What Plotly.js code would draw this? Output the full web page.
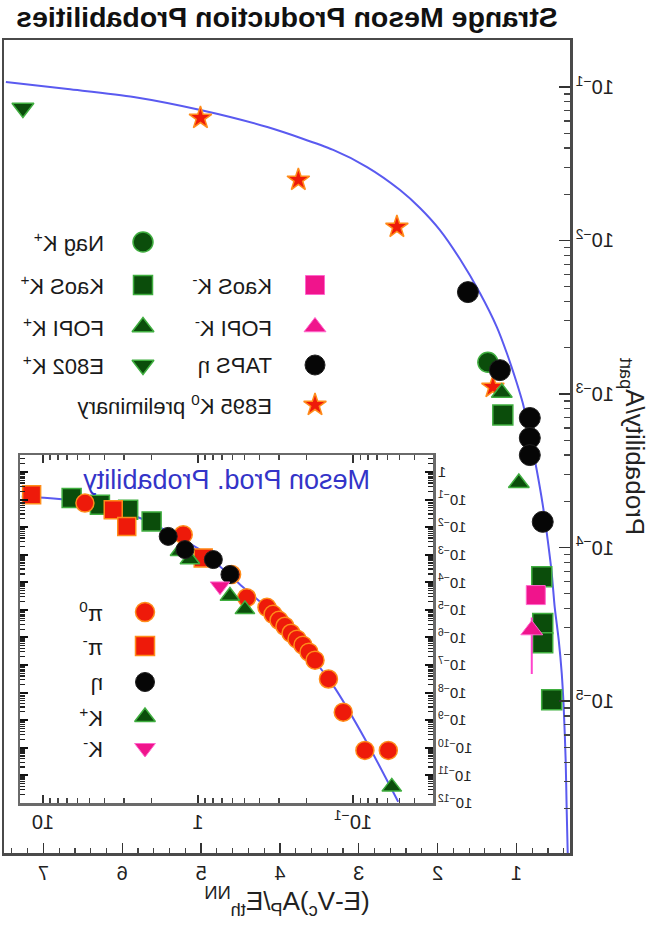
<!DOCTYPE html>
<html>
<head>
<meta charset="utf-8">
<script src="https://cdn.plot.ly/plotly-3.0.1.min.js"></script>
<style>
  html, body { margin: 0; padding: 0; background: #ffffff; }
  #chart { width: 667px; height: 931px; transform: scaleX(-1); }
</style>
</head>
<body>
<div id="chart"></div>
<script>
// ---------- main panel: probability per participant vs reduced energy ----------
const curveX = [7.476, 6.691, 5.856, 5.008, 4.160, 3.324, 2.894, 2.476, 2.223, 1.970, 1.716, 1.463, 1.248, 1.122, 0.995, 0.919, 0.830, 0.742, 0.665, 0.603, 0.552, 0.514, 0.463, 0.425, 0.400, 0.375, 0.362, 0.349];
const curveY = [0.1079, 0.0970, 0.0861, 0.0708, 0.0548, 0.0389, 0.0301, 0.02133, 0.01629, 0.01169, 0.00757, 0.00455, 0.00273, 0.00185, 0.00118, 8.73e-4, 5.41e-4, 3.20e-4, 1.89e-4, 1.12e-4, 6.82e-5, 4.09e-5, 2.49e-5, 1.52e-5, 9.14e-6, 4.13e-6, 1.95e-6, 1.02e-6];

const nagKpX = [1.362];
const nagKpY = [1.61e-3];
const kaosKpX = [1.172, 0.678, 0.666, 0.666, 0.552];
const kaosKpY = [7.3e-4, 6.45e-5, 3.2e-5, 2.4e-5, 1.02e-5];
const fopiKpX = [1.185, 0.969];
const fopiKpY = [1.02e-3, 2.63e-4];
const e802KpX = [7.26];
const e802KpY = [0.0729];
const kaosKmX = [0.754];
const kaosKmY = [4.9e-5];
const fopiKmX = [0.805];
const fopiKmY = [2.9e-5];
const fopiKmErrMinus = [1.4e-5];
const fopiKmErrPlus = [0.6e-5];
const tapsEtaX = [1.615, 1.21, 0.830, 0.830, 0.830, 0.666];
const tapsEtaY = [4.61e-3, 1.43e-3, 6.98e-4, 5.17e-4, 4.0e-4, 1.47e-4];
const e895K0X = [5.008, 3.766, 2.516, 1.298];
const e895K0Y = [0.0628, 0.0248, 0.01225, 1.11e-3];

const mainXTicks = [1, 2, 3, 4, 5, 6, 7];

// ---------- inset: meson production probability, log-log ----------
const insetCurveX = [13.7, 5.50, 2.37, 0.970, 0.536, 0.361, 0.220, 0.134, 0.0817, 0.0511];
const insetCurveY = [0.129, 0.0851, 0.0214, 1.51e-3, 8.3e-5, 1.2e-5, 6.6e-7, 1.78e-8, 1.62e-10, 1.1e-12];

const pi0X = [5.36, 1.245, 0.607, 0.485, 0.359, 0.328, 0.300, 0.275, 0.251, 0.2297, 0.2104, 0.1923, 0.1758, 0.144, 0.1156, 0.0838, 0.0592];
const pi0Y = [0.0741, 5.32e-3, 1.91e-4, 2.75e-5, 1.23e-5, 6.89e-6, 4.18e-6, 2.54e-6, 1.42e-6, 8.61e-7, 5.22e-7, 2.92e-7, 1.50e-7, 3.10e-8, 1.95e-9, 8.0e-11, 8.0e-11];
const piMinusX = [11.83, 3.52, 2.88, 0.925];
const piMinusY = [0.148, 0.0425, 0.0106, 7.66e-4];
const etaX = [1.556, 1.213, 0.796, 0.622];
const etaY = [4.61e-3, 1.53e-3, 6.65e-4, 1.91e-4];
const kPlusSqX = [6.53, 4.29, 2.82, 1.99];
const kPlusSqY = [0.1125, 0.0644, 0.0425, 0.0161];
const kPlusX = [1.306, 1.127, 0.622, 0.498, 0.0562];
const kPlusY = [1.33e-3, 6.65e-4, 3.15e-5, 1.04e-5, 3.8e-12];
const kMinusX = [0.721];
const kMinusY = [7.2e-5];

// ---------- styling ----------
const FONT = 'Liberation Sans, Arial, Helvetica, sans-serif';
const GREEN = {color: '#0b4d0b', line: {color: '#3fae3f', width: 1.5}};
const PINK = {color: '#f0148c', line: {color: '#ff66cc', width: 1}};
const RED = {color: '#ee1a0a', line: {color: '#ff8c1a', width: 1.5}};
const BLACK = {color: '#060606', line: {color: '#202020', width: 1}};
const BLUE = '#5a5af0';

function pts(x, y, symbol, size, style, xa, ya, extra) {
  return Object.assign({
    type: 'scatter', mode: 'markers', x: x, y: y,
    xaxis: xa, yaxis: ya, showlegend: false, hoverinfo: 'skip',
    marker: Object.assign({symbol: symbol, size: size}, style)
  }, extra || {});
}

// legend keys: drawn on a pixel-scaled helper axis (x3/y3) spanning the plot area
const PLOT_L = 97, PLOT_R = 663, PLOT_T = 40, PLOT_B = 853;
const mainLegend = [
  {label: 'Nag K<sup>+</sup>', symbol: 'circle', size: 20, style: GREEN, mx: 524, tx: 561, y: 242},
  {label: 'KaoS K<sup>-</sup>', symbol: 'square', size: 19, style: PINK, mx: 352, tx: 393, y: 285},
  {label: 'KaoS K<sup>+</sup>', symbol: 'square', size: 19, style: GREEN, mx: 524, tx: 561, y: 285},
  {label: 'FOPI K<sup>-</sup>', symbol: 'triangle-up', size: 19, style: PINK, mx: 352, tx: 393, y: 327},
  {label: 'FOPI K<sup>+</sup>', symbol: 'triangle-up', size: 19, style: GREEN, mx: 524, tx: 561, y: 327},
  {label: 'TAPS \u03b7', symbol: 'circle', size: 20, style: BLACK, mx: 352, tx: 393, y: 365},
  {label: 'E802 K<sup>+</sup>', symbol: 'triangle-down', size: 19, style: GREEN, mx: 524, tx: 561, y: 365},
  {label: 'E895 K<sup>0</sup> preliminary', symbol: 'star', size: 17, style: RED, mx: 352, tx: 393, y: 405}
];
const insetLegend = [
  {label: '\u03c0<sup>0</sup>', symbol: 'circle', size: 19, style: RED, mx: 522, tx: 562, y: 612},
  {label: '\u03c0<sup>-</sup>', symbol: 'square', size: 19, style: RED, mx: 522, tx: 562, y: 646},
  {label: '\u03b7', symbol: 'circle', size: 19, style: BLACK, mx: 522, tx: 562, y: 682},
  {label: 'K<sup>+</sup>', symbol: 'triangle-up', size: 18, style: GREEN, mx: 522, tx: 562, y: 717},
  {label: 'K<sup>-</sup>', symbol: 'triangle-down', size: 18, style: PINK, mx: 522, tx: 562, y: 748}
];

const traces = [
  {type: 'scatter', mode: 'lines', x: curveX, y: curveY, xaxis: 'x', yaxis: 'y',
   line: {color: BLUE, width: 2, shape: 'spline', smoothing: 0.7}, showlegend: false, hoverinfo: 'skip'},
  pts(e802KpX, e802KpY, 'triangle-down', 19, GREEN, 'x', 'y'),
  pts(e895K0X, e895K0Y, 'star', 17, RED, 'x', 'y'),
  pts(nagKpX, nagKpY, 'circle', 20, GREEN, 'x', 'y'),
  pts(fopiKpX, fopiKpY, 'triangle-up', 18, GREEN, 'x', 'y'),
  pts(kaosKpX, kaosKpY, 'square', 20, GREEN, 'x', 'y'),
  pts(fopiKmX, fopiKmY, 'triangle-up', 19, PINK, 'x', 'y',
      {error_y: {type: 'data', array: fopiKmErrPlus, arrayminus: fopiKmErrMinus, color: '#ff44cc', thickness: 2, width: 0}}),
  pts(kaosKmX, kaosKmY, 'square', 19, PINK, 'x', 'y'),
  pts(tapsEtaX, tapsEtaY, 'circle', 21, BLACK, 'x', 'y'),

  {type: 'scatter', mode: 'lines', x: insetCurveX, y: insetCurveY, xaxis: 'x2', yaxis: 'y2',
   line: {color: BLUE, width: 2, shape: 'spline', smoothing: 0.6}, showlegend: false, hoverinfo: 'skip'},
  pts(kPlusSqX, kPlusSqY, 'square', 19, GREEN, 'x2', 'y2'),
  pts(piMinusX, piMinusY, 'square', 18, RED, 'x2', 'y2'),
  pts(pi0X, pi0Y, 'circle', 18, RED, 'x2', 'y2'),
  pts(kPlusX, kPlusY, 'triangle-up', 17, GREEN, 'x2', 'y2'),
  pts(etaX, etaY, 'circle', 18, BLACK, 'x2', 'y2'),
  pts(kMinusX, kMinusY, 'triangle-down', 17, PINK, 'x2', 'y2')
];

const annotations = [];
mainLegend.concat(insetLegend).forEach(function (e) {
  traces.push(pts([e.mx], [e.y], e.symbol, e.size, e.style, 'x3', 'y3'));
  annotations.push({xref: 'x3', yref: 'y3', x: e.tx, y: e.y, text: e.label, showarrow: false,
    xanchor: 'left', yanchor: 'middle', font: {family: FONT, size: 22, color: '#1a1a1a'}});
});
annotations.push({xref: 'x2 domain', yref: 'y2 domain', x: 0.5, y: 0.928, text: 'Meson Prod. Probability',
  showarrow: false, xanchor: 'center', yanchor: 'middle', font: {family: FONT, size: 27, color: '#3434c8'}});

const axisLine = {showline: true, linecolor: '#4a4a4a', linewidth: 2.5, showgrid: false, zeroline: false};

const layout = {
  width: 667, height: 931,
  margin: {l: PLOT_L, r: 667 - PLOT_R, t: PLOT_T, b: 931 - PLOT_B, pad: 0},
  paper_bgcolor: '#ffffff', plot_bgcolor: 'rgba(0,0,0,0)',
  showlegend: false,
  font: {family: FONT, color: '#1a1a1a'},
  title: {text: 'Strange Meson Production Probabilities', x: 0.5, xref: 'paper', xanchor: 'center',
          y: 1 - 17 / 931, yref: 'container', yanchor: 'middle',
          font: {family: FONT, size: 28.5, weight: 'bold', color: '#111111'}},
  xaxis: Object.assign({}, axisLine, {
    domain: [0, 1], anchor: 'y', range: [0.32, 7.5], mirror: true,
    tickmode: 'array', tickvals: mainXTicks, ticktext: mainXTicks.map(String),
    ticks: 'inside', ticklen: 10, tickwidth: 1.5, tickcolor: '#333',
    minor: {ticks: 'inside', ticklen: 5, tickwidth: 1.2, tickcolor: '#444', dtick: 0.2, tick0: 0},
    tickfont: {family: FONT, size: 20, color: '#222'},
    title: {text: '(E-V<sub>c</sub>)A<sub>P</sub>/E<sub>th</sub><sup>NN</sup>', standoff: 8,
            font: {family: FONT, size: 26, color: '#222'}}
  }),
  yaxis: Object.assign({}, axisLine, {
    domain: [0, 1], anchor: 'x', type: 'log', range: [-5.99, -0.694], mirror: true,
    dtick: 1, exponentformat: 'power',
    ticks: 'inside', ticklen: 11, tickwidth: 1.5, tickcolor: '#333',
    minor: {ticks: 'inside', ticklen: 6, tickwidth: 1.2, tickcolor: '#444', dtick: 'D1'},
    tickfont: {family: FONT, size: 16, color: '#222'},
    title: {text: 'Probability/A<sub>part</sub>', standoff: 4,
            font: {family: FONT, size: 26, color: '#222'}}
  }),
  xaxis2: Object.assign({}, axisLine, {
    domain: [(234 - PLOT_L) / (PLOT_R - PLOT_L), (647 - PLOT_L) / (PLOT_R - PLOT_L)], anchor: 'y2',
    type: 'log', range: [-1.516, 1.148], mirror: 'ticks', dtick: 1, exponentformat: 'power',
    linecolor: '#6a6a6a',
    ticks: 'inside', ticklen: 8, tickwidth: 1.5, tickcolor: '#333',
    minor: {ticks: 'inside', ticklen: 5, tickwidth: 1.2, tickcolor: '#444', dtick: 'D1'},
    tickfont: {family: FONT, size: 16, color: '#222'}
  }),
  yaxis2: Object.assign({}, axisLine, {
    domain: [(PLOT_B - 803) / (PLOT_B - PLOT_T), (PLOT_B - 455) / (PLOT_B - PLOT_T)], anchor: 'x2',
    type: 'log', range: [-12.005, 0.615], mirror: 'ticks', dtick: 1, exponentformat: 'power',
    linecolor: '#6a6a6a',
    ticks: 'inside', ticklen: 8, tickwidth: 2, tickcolor: '#111',
    minor: {ticks: 'inside', ticklen: 5, tickwidth: 1.2, tickcolor: '#222', dtick: 'D1'},
    tickfont: {family: FONT, size: 12, color: '#222'}
  }),
  xaxis3: {domain: [0, 1], anchor: 'y3', range: [PLOT_L, PLOT_R], visible: false, fixedrange: true},
  yaxis3: {domain: [0, 1], anchor: 'x3', range: [PLOT_B, PLOT_T], visible: false, fixedrange: true},
  annotations: annotations
};

Plotly.newPlot('chart', traces, layout, {displayModeBar: false, staticPlot: true});
</script>
</body>
</html>
